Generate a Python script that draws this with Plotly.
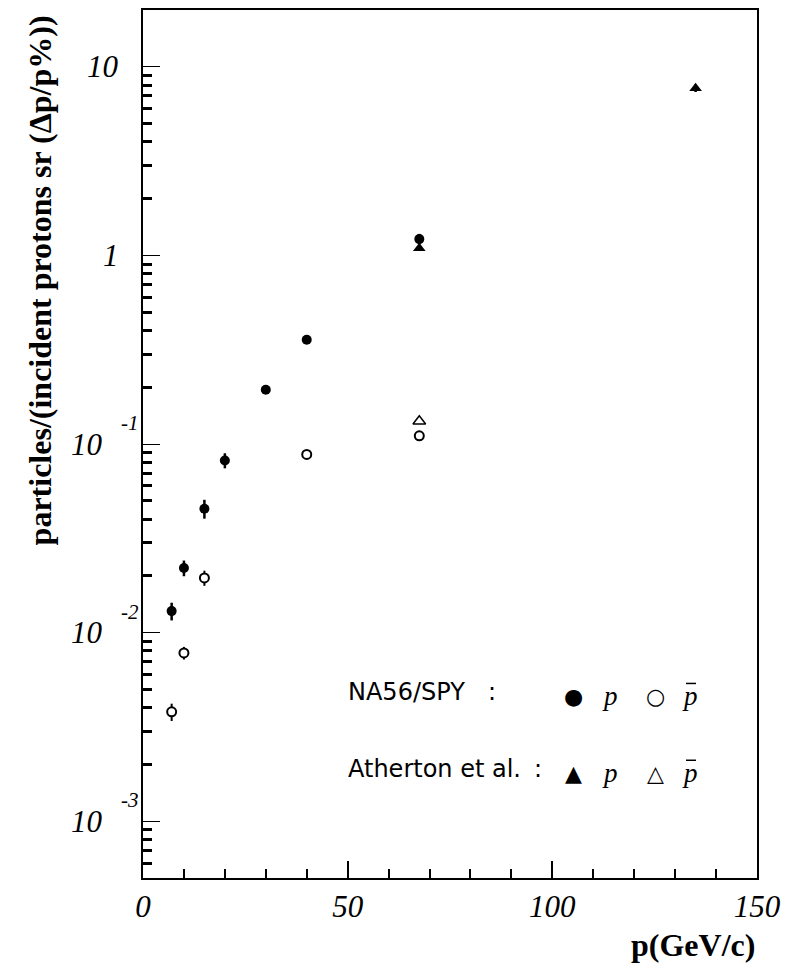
import math
import plotly.graph_objects as go

# NA56/SPY protons (filled circles)
na56_p_mom = [7, 10, 15, 20, 30, 40, 67.5]
na56_p_val = [0.0130, 0.0220, 0.0454, 0.0818, 0.194, 0.357, 1.22]
na56_p_err = [0.0014, 0.0021, 0.0052, 0.0075, 0.008, 0.012, 0.08]

# NA56/SPY antiprotons (open circles)
na56_pbar_mom = [7, 10, 15, 40, 67.5]
na56_pbar_val = [0.0038, 0.0078, 0.0195, 0.088, 0.1105]
na56_pbar_err = [0.0004, 0.0006, 0.0018, 0.003, 0.004]

# Atherton et al. protons (filled triangles) and antiprotons (open triangles)
ath_p_mom = [67.5, 135]
ath_p_val = [1.09, 7.7]
ath_p_err = [0.0, 0.35]
ath_pbar_mom = [67.5]
ath_pbar_val = [0.132]

# Axis tick labels
y_decades = [1e-3, 1e-2, 1e-1, 1, 10]
x_ticks = [0, 50, 100, 150]

W, H = 796, 969
L, R, T, B = 143, 757, 8, 878

SERIF = "Liberation Serif, Times New Roman, serif"


def px_x(px):
    return (px - L) / (R - L)


def px_y(py):
    return (B - py) / (B - T)


fig = go.Figure()

fig.add_trace(go.Scatter(
    x=na56_p_mom, y=na56_p_val, mode="markers",
    marker=dict(symbol="circle", size=10, color="black"),
    error_y=dict(type="data", array=na56_p_err, width=0, thickness=2.5, color="black"),
))
fig.add_trace(go.Scatter(
    x=na56_pbar_mom, y=na56_pbar_val, mode="markers",
    marker=dict(symbol="circle", size=9, color="white", line=dict(color="black", width=2)),
    error_y=dict(type="data", array=na56_pbar_err, width=0, thickness=2, color="black"),
))
fig.add_trace(go.Scatter(
    x=ath_p_mom, y=ath_p_val, mode="markers",
    marker=dict(symbol="triangle-up", size=11, color="black"),
    error_y=dict(type="data", array=ath_p_err, width=0, thickness=2.5, color="black"),
))
fig.add_trace(go.Scatter(
    x=ath_pbar_mom, y=ath_pbar_val, mode="markers",
    marker=dict(symbol="triangle-up", size=11, color="white", line=dict(color="black", width=1.5)),
))

# minor ticks on the log axis: 2..9 within each decade
minor_y = []
for e in range(-4, 2):
    for k in range(2, 10):
        v = k * 10 ** e
        if 5e-4 <= v <= 20:
            minor_y.append(v)

fig.update_xaxes(
    range=[0, 150], tickvals=x_ticks, ticktext=[str(t) for t in x_ticks],
    ticks="inside", ticklen=17, tickwidth=2, tickcolor="black",
    showline=True, linecolor="black", linewidth=2, mirror=True,
    showgrid=False, zeroline=False,
    tickfont=dict(family=SERIF, size=31, color="black", style="italic"),
    ticklabelstandoff=0,
    minor=dict(dtick=10, ticks="inside", ticklen=9, tickwidth=2, tickcolor="black", showgrid=False),
)
fig.update_yaxes(
    type="log", range=[math.log10(5e-4), math.log10(20)],
    tickvals=y_decades, showticklabels=False,
    ticks="inside", ticklen=17, tickwidth=1.2, tickcolor="black",
    showline=True, linecolor="black", linewidth=2, mirror=True,
    showgrid=False, zeroline=False,
    minor=dict(tickmode="array", tickvals=minor_y, ticks="inside", ticklen=9,
               tickwidth=2.5, tickcolor="black", showgrid=False),
)

ann = []
tick_font = dict(family=SERIF, size=31, color="black", style="italic")
sup_font = dict(family=SERIF, size=21, color="black", style="italic")
for d in y_decades:
    e = int(round(math.log10(d)))
    if e >= 0:
        ann.append(dict(x=px_x(121), xref="paper", y=e, yref="y", text=str(int(d)),
                        xanchor="right", yanchor="middle", showarrow=False, font=tick_font))
    else:
        ann.append(dict(x=px_x(105), xref="paper", y=e, yref="y", text="10",
                        xanchor="right", yanchor="middle", showarrow=False, font=tick_font))
        ann.append(dict(x=px_x(119), xref="paper", y=e, yref="y", text=str(e),
                        xanchor="left", yanchor="middle", yshift=21, showarrow=False, font=sup_font))

# axis titles
ann.append(dict(x=px_x(757), xref="paper", y=px_y(945), yref="paper", text="<b>p(GeV/c)</b>",
                xanchor="right", yanchor="middle", showarrow=False,
                font=dict(family=SERIF, size=32, color="black")))
ann.append(dict(x=px_x(40), xref="paper", y=px_y(279), yref="paper",
                text="<b>particles/(incident protons sr (\u0394p/p%))</b>",
                textangle=-90, xanchor="center", yanchor="middle", showarrow=False,
                font=dict(family=SERIF, size=32, color="black")))

# legend block
leg_font = dict(family="DejaVu Sans", size=24, color="black")
sym_font = dict(family="DejaVu Sans", size=22, color="black")
p_font = dict(family=SERIF, size=27, color="black", style="italic")
rows = [
    (696, "NA56/SPY", 492, "\u25CF", "\u25CB"),
    (773, "Atherton et al.", 538, "\u25B2", "\u25B3"),
]
shapes = []
for yy, label, colon_x, s_p, s_pbar in rows:
    ann.append(dict(x=px_x(346), xref="paper", y=px_y(yy - 4), yref="paper", text=label,
                    xanchor="left", yanchor="middle", showarrow=False, font=leg_font))
    ann.append(dict(x=px_x(colon_x), xref="paper", y=px_y(yy - 4), yref="paper", text=":",
                    xanchor="center", yanchor="middle", showarrow=False, font=leg_font))
    ann.append(dict(x=px_x(573), xref="paper", y=px_y(yy), yref="paper", text=s_p,
                    xanchor="center", yanchor="middle", showarrow=False, font=sym_font))
    ann.append(dict(x=px_x(610), xref="paper", y=px_y(yy), yref="paper", text="p",
                    xanchor="center", yanchor="middle", showarrow=False, font=p_font))
    ann.append(dict(x=px_x(655), xref="paper", y=px_y(yy), yref="paper", text=s_pbar,
                    xanchor="center", yanchor="middle", showarrow=False, font=sym_font))
    ann.append(dict(x=px_x(690), xref="paper", y=px_y(yy), yref="paper", text="p",
                    xanchor="center", yanchor="middle", showarrow=False, font=p_font))
    shapes.append(dict(type="line", xref="paper", yref="paper",
                       x0=px_x(686), x1=px_x(696), y0=px_y(yy - 13), y1=px_y(yy - 13),
                       line=dict(color="black", width=1.5)))

fig.update_layout(
    width=W, height=H,
    margin=dict(l=L, r=W - R, t=T, b=H - B),
    paper_bgcolor="white", plot_bgcolor="white",
    showlegend=False,
    annotations=ann, shapes=shapes,
)

fig.write_html("out.html")
